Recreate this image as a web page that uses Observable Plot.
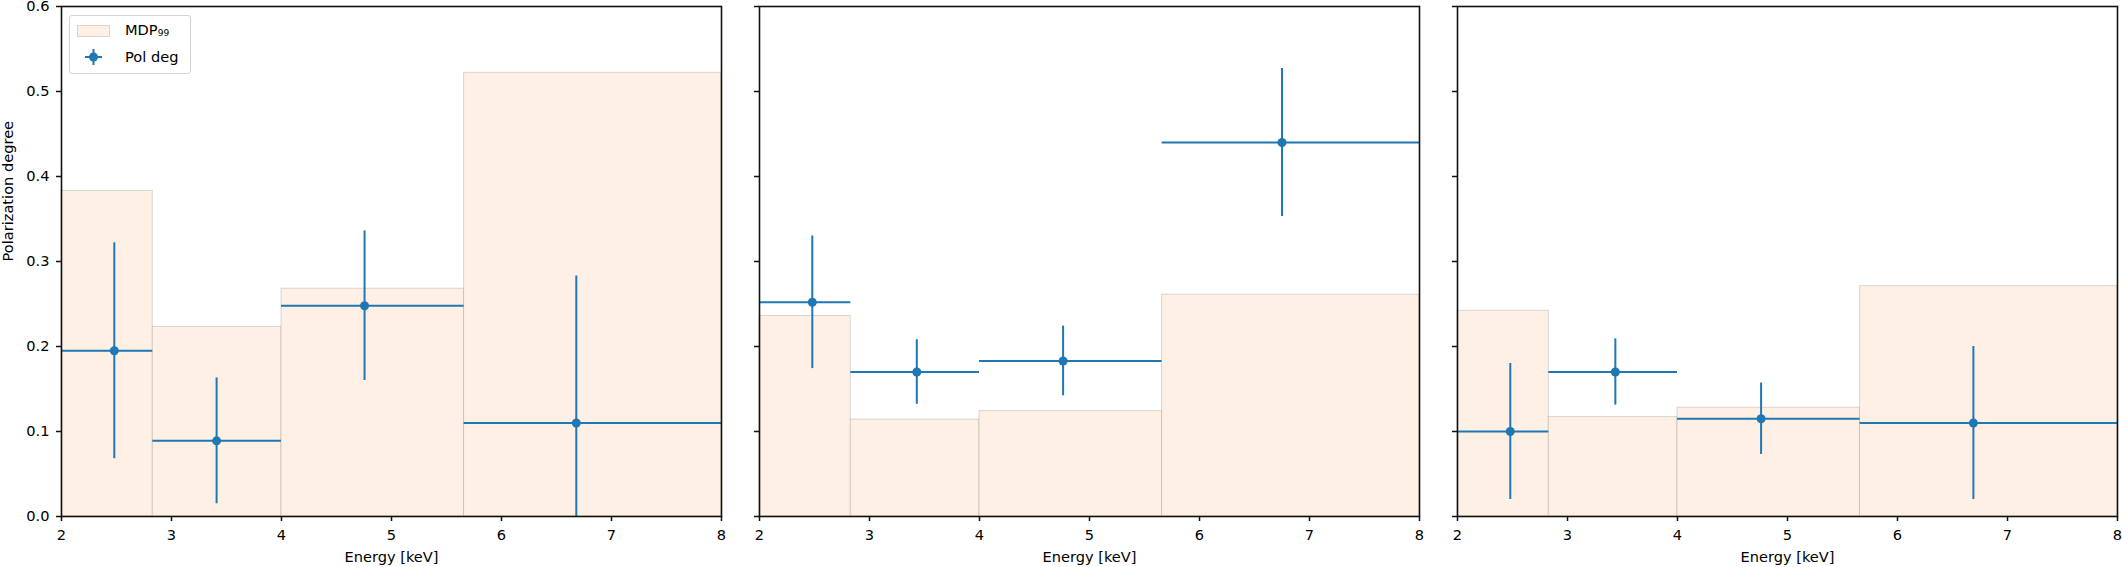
<!DOCTYPE html>
<html>
<head>
<meta charset="utf-8">
<script src="https://cdn.jsdelivr.net/npm/d3@7"></script>
<script src="https://cdn.jsdelivr.net/npm/@observablehq/plot@0.6"></script>
<style>
  html, body { margin: 0; padding: 0; background: #fff; }
  #wrap { position: relative; width: 2122px; height: 567px; overflow: hidden; font-family: "DejaVu Sans", sans-serif; }
  .panel { position: absolute; top: 0; }
  #legend { position: absolute; left: 69px; top: 15px; width: 120px; height: 57px; border: 1px solid #d3d3d3; border-radius: 3px; background: rgba(255,255,255,0.8); font-size: 14.6px; color: #000; }
  #legend .patch { position: absolute; left: 7px; top: 9px; width: 33px; height: 12px; background: #fef0e4; border: 1px solid rgba(0,0,0,0.12); box-sizing: border-box; }
  #legend .lbl { position: absolute; left: 55px; line-height: 18px; white-space: nowrap; }
  #legend sub { font-size: 0.62em; vertical-align: -0.1em; }
</style>
</head>
<body>
<div id="wrap">
  <div id="p1" class="panel" style="left:0px"></div>
  <div id="p2" class="panel" style="left:698px"></div>
  <div id="p3" class="panel" style="left:1396px"></div>
  <div id="legend">
    <div class="patch"></div>
    <div class="lbl" style="top:5px">MDP<sub>99</sub></div>
    <svg style="position:absolute;left:14px;top:32px" width="19" height="18">
      <line x1="1" y1="9" x2="18" y2="9" stroke="#1f77b4" stroke-width="2"/>
      <line x1="9.5" y1="1" x2="9.5" y2="17" stroke="#1f77b4" stroke-width="2"/>
      <circle cx="9.5" cy="9" r="4.5" fill="#1f77b4"/>
    </svg>
    <div class="lbl" style="top:32px">Pol deg</div>
  </div>
</div>
<script>
// Energy bins (keV)
const binLo = [2, 2.83, 4, 5.66];
const binHi = [2.83, 4, 5.66, 8];
const xTicks = [2, 3, 4, 5, 6, 7, 8];
const yTicks = [0, 0.1, 0.2, 0.3, 0.4, 0.5, 0.6];

// MDP99 per bin, per panel
const mdp1 = [0.383, 0.223, 0.268, 0.522];
const mdp2 = [0.236, 0.114, 0.124, 0.261];
const mdp3 = [0.242, 0.117, 0.128, 0.271];

// Polarization degree points
const energy1 = [2.48, 3.41, 4.755, 6.68];
const pd1 = [0.195, 0.089, 0.248, 0.110];
const pdErr1 = [0.127, 0.074, 0.088, 0.173];

const energy2 = [2.48, 3.43, 4.76, 6.75];
const pd2 = [0.252, 0.170, 0.183, 0.440];
const pdErr2 = [0.078, 0.038, 0.041, 0.087];

const energy3 = [2.48, 3.435, 4.76, 6.69];
const pd3 = [0.100, 0.170, 0.115, 0.110];
const pdErr3 = [0.080, 0.039, 0.042, 0.090];

const FS = 14.6;
const BLUE = "#1f77b4";

function panel(mdp, energy, pd, err, showY) {
  const bins = binLo.map((lo, k) => ({lo, hi: binHi[k], mdp: mdp[k]}));
  const pts = energy.map((e, k) => ({e, pd: pd[k], lo: pd[k] - err[k], hi: pd[k] + err[k], x1: binLo[k], x2: binHi[k]}));
  return Plot.plot({
    width: 726, height: 567,
    marginLeft: 61, marginRight: 5, marginTop: 6, marginBottom: 51,
    style: {background: "transparent", overflow: "visible", fontFamily: "DejaVu Sans, sans-serif", fontSize: FS + "px", color: "#000"},
    x: {domain: [2, 8]},
    y: {domain: [0, 0.6]},
    marks: [
      Plot.rect(bins, {x1: "lo", x2: "hi", y1: () => 0, y2: "mdp", fill: "#fef0e4", stroke: "#000", strokeOpacity: 0.14, strokeWidth: 1}),
      Plot.ruleY(pts, {y: "pd", x1: "x1", x2: "x2", stroke: BLUE, strokeWidth: 2}),
      Plot.ruleX(pts, {x: "e", y1: "lo", y2: "hi", stroke: BLUE, strokeWidth: 2, clip: true}),
      Plot.dot(pts, {x: "e", y: "pd", r: 4.5, fill: BLUE, stroke: null}),
      Plot.frame({stroke: "#111", strokeWidth: 1.6}),
      Plot.axisX({ticks: xTicks, tickSize: 5, tickPadding: 8, label: null, tickFormat: d => String(d), fontSize: FS, stroke: "#111", strokeWidth: 1.5, fill: "#000"}),
      Plot.axisY({ticks: yTicks, tickSize: 5, tickPadding: 7, label: null, tickFormat: showY ? (d => d.toFixed(1)) : (() => ""), fontSize: FS, stroke: "#111", strokeWidth: 1.5, fill: "#000"}),
      Plot.text(["Energy [keV]"], {frameAnchor: "bottom", dy: 41, lineAnchor: "middle", fontSize: FS, fill: "#000"}),
      showY ? Plot.text(["Polarization degree"], {frameAnchor: "left", dx: -53, rotate: -90, lineAnchor: "middle", fontSize: FS, fill: "#000"}) : null
    ]
  });
}

document.getElementById("p1").appendChild(panel(mdp1, energy1, pd1, pdErr1, true));
document.getElementById("p2").appendChild(panel(mdp2, energy2, pd2, pdErr2, false));
document.getElementById("p3").appendChild(panel(mdp3, energy3, pd3, pdErr3, false));
</script>
</body>
</html>
